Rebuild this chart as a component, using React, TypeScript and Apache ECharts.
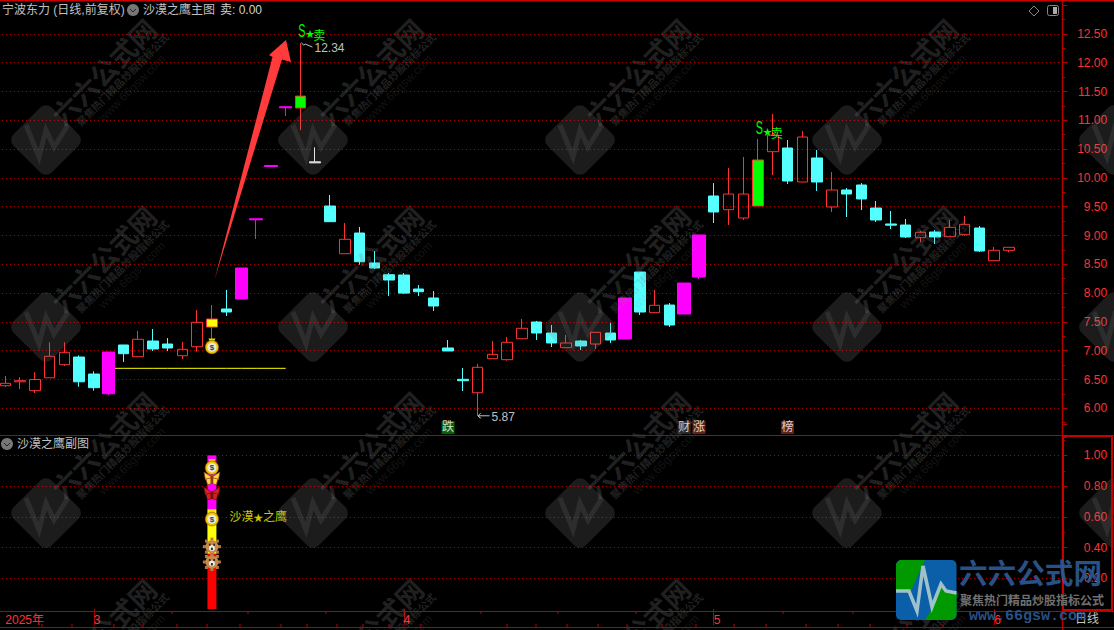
import React, { useEffect, useRef } from "react";
import * as echarts from "echarts";

const bodyTop = [6.434,6.48,6.5,6.903,6.972,6.89,6.595,6.977,7.099,7.198,7.168,7.116,7.024,7.493,7.55,7.724,8.436,9.29,10.216,11.235,11.42,10.279,9.512,8.934,9.043,8.523,8.319,8.314,8.071,7.915,7.047,6.503,6.712,6.937,7.146,7.389,7.498,7.307,7.134,7.168,7.319,7.307,7.915,8.366,7.788,7.793,8.175,9.009,9.686,9.72,9.72,10.311,10.744,10.519,10.71,10.346,9.79,9.79,9.877,9.477,9.2,9.182,9.056,9.061,9.142,9.194,9.13,8.743,8.795];
const bodyBottom = [6.392,6.46,6.306,6.53,6.757,6.46,6.358,6.253,6.948,6.896,7.03,7.047,6.913,7.069,7.41,7.672,7.898,9.272,10.198,11.217,11.214,10.261,9.24,8.684,8.545,8.436,8.227,8.0,8.024,7.776,6.995,6.479,6.27,6.861,6.844,7.208,7.307,7.134,7.052,7.082,7.116,7.186,7.203,7.672,7.66,7.446,7.637,8.28,9.408,9.448,9.304,9.512,10.455,9.946,9.929,9.929,9.495,9.72,9.634,9.269,9.18,8.974,8.962,8.974,8.979,9.014,8.731,8.562,8.743];
const lows = [6.37,6.335,6.265,6.53,6.734,6.375,6.306,6.23,6.804,6.896,6.995,6.995,6.856,6.983,7.13,7.602,7.898,8.94,10.198,11.075,10.83,10.261,9.24,8.684,8.493,8.418,7.95,7.984,7.95,7.689,6.995,6.3,5.87,6.861,6.826,7.208,7.186,7.064,7.052,7.012,7.03,7.134,7.203,7.62,7.66,7.411,7.637,8.245,9.217,9.182,9.269,9.512,10.05,9.894,9.929,9.773,9.408,9.321,9.443,9.234,9.113,8.957,8.887,8.852,8.979,8.997,8.713,8.562,8.708];
const highs = [6.561,6.54,6.625,7.146,7.146,6.92,6.642,6.977,7.099,7.342,7.377,7.22,7.151,7.707,7.793,8.054,8.436,9.29,10.216,11.235,12.34,10.53,9.703,9.217,9.148,8.731,8.349,8.349,8.14,8.036,7.186,6.7,6.77,7.168,7.238,7.55,7.516,7.446,7.273,7.186,7.319,7.481,7.915,8.366,8.054,7.828,8.175,9.009,9.911,10.172,10.363,10.675,11.11,10.658,10.814,10.484,10.102,9.825,9.911,9.599,9.425,9.287,9.078,9.095,9.269,9.339,9.165,8.8,8.795];
const kinds = "rrrrrccmcrccrrycmmmmgwcrccccccccrrrrccrcrcmcrcmmcrrgrcrcrcccccrcrrcrr".split("");
const dateLabels: Record<number, string> = { 0: "2025年", 6: "3", 27: "4", 48: "5", 67: "6" };
const monthStarts = [6, 27, 48, 67];
const yellowLevel = 6.694;
const yellowFrom = 7;
const yellowTo = 19;
const signalIndex = 14;
const subRed = 0.36;
const subYellow = 0.29;
const subMagenta = 0.35;
const subIcons: [string, number][] = [["bag", 0.926], ["flyY", 0.853], ["flyR", 0.755], ["bag", 0.592], ["tiger", 0.406], ["tiger", 0.306]];
const mainBag = 7.08;
const extremaIdx = [20, 32];
const extremaVal = [12.34, 5.87];
const sellMarks: [number, number][] = [[20, 12.56], [51, 10.866]];
const badges: [number, string, string][] = [[30, "跌", "#0a7a0a"], [46, "财", "#333333"], [47, "涨", "#7a2a1a"], [53, "榜", "#7a2a1a"]];
const badgeLevel = 5.667;
const topTicks = [172, 248, 326, 481, 558, 636, 783, 853];
const bottomTicks = [42, 72, 114, 143, 177, 207, 240, 281, 307, 337, 363, 389, 421, 507, 536, 567, 598, 627, 662, 696, 734, 766, 806, 838, 870, 907, 943];

const RED = "#ff3232";
const LINE = "#b80000";
const CYAN = "#54ffff";
const MAG = "#ff00ff";
const CJK = '"Liberation Sans","Noto Sans CJK SC",sans-serif';
const TICK_COUNT = 72;
const categories = Array.from({ length: TICK_COUNT }, (_, i) => dateLabels[i] ?? "");

function candle(kind: string, fill: string, border: string, width: number) {
  return {
    type: "candlestick" as const,
    xAxisIndex: 0,
    yAxisIndex: 0,
    barWidth: width,
    z: 3,
    itemStyle: { color: fill, color0: fill, borderColor: border, borderColor0: border, borderColorDoji: border, borderWidth: 1 },
    data: kinds.map((k, i) => (k === kind ? [bodyBottom[i], bodyTop[i], lows[i], highs[i]] : [NaN, NaN, NaN, NaN])),
  };
}

function iconChildren(kind: string) {
  if (kind === "bag") {
    return [
      { type: "polygon", shape: { points: [[-3.5, -7.5], [3.5, -7.5], [1.5, -3], [-1.5, -3]] }, style: { fill: "#ffd400" } },
      { type: "circle", shape: { cx: 0, cy: 1, r: 6.8 }, style: { fill: "#f2c200", stroke: "#5a3a00", lineWidth: 0.5 } },
      { type: "circle", shape: { cx: 0, cy: 1, r: 4.6 }, style: { fill: "#efe9d8" } },
      { type: "text", x: 0, y: 1, style: { text: "$", fill: "#4a3a2a", font: "bold 8px 'Liberation Sans'", align: "center", verticalAlign: "middle" } },
    ];
  }
  if (kind === "tiger") {
    const spikes: number[][] = [];
    for (const [x, y] of [[0, -7.5], [7.5, 0], [0, 7.5], [-7.5, 0], [-5.5, -5.5], [5.5, -5.5], [-5.5, 5.5], [5.5, 5.5]]) spikes.push([x, y]);
    return [
      ...spikes.map(([x, y]) => ({ type: "rect", shape: { x: x - 1.5, y: y - 1.5, width: 3, height: 3 }, style: { fill: "#b87a3a" } })),
      { type: "circle", shape: { cx: 0, cy: 0, r: 6.5 }, style: { fill: "#c48a4c" } },
      { type: "circle", shape: { cx: 0, cy: 1.5, r: 3 }, style: { fill: "#eeeeee" } },
      { type: "rect", shape: { x: -3, y: -3, width: 1.6, height: 2 }, style: { fill: "#222" } },
      { type: "rect", shape: { x: 1.4, y: -3, width: 1.6, height: 2 }, style: { fill: "#222" } },
      { type: "rect", shape: { x: -1, y: 1, width: 2, height: 2.5 }, style: { fill: "#333" } },
    ];
  }
  const wing = kind === "flyY" ? "#ffd83a" : "#d82020";
  const edge = kind === "flyY" ? "#8a3a10" : "#701010";
  return [
    { type: "polygon", shape: { points: [[-8, -6], [-1, -1.5], [-1, 2], [-6.5, 2]] }, style: { fill: wing, stroke: edge, lineWidth: 0.7 } },
    { type: "polygon", shape: { points: [[8, -6], [1, -1.5], [1, 2], [6.5, 2]] }, style: { fill: wing, stroke: edge, lineWidth: 0.7 } },
    { type: "polygon", shape: { points: [[-6, 1], [-1, 0], [-1, 6], [-4.5, 6.5]] }, style: { fill: wing, stroke: edge, lineWidth: 0.7 } },
    { type: "polygon", shape: { points: [[6, 1], [1, 0], [1, 6], [4.5, 6.5]] }, style: { fill: wing, stroke: edge, lineWidth: 0.7 } },
    { type: "rect", shape: { x: -1, y: -2, width: 2, height: 8 }, style: { fill: edge } },
  ];
}

function renderIcon(kindsOfIcons: string[]) {
  return (params: any, api: any) => {
    const p = api.coord([api.value(0), api.value(1)]);
    return { type: "group", x: p[0], y: p[1], children: iconChildren(kindsOfIcons[params.dataIndex]) };
  };
}

function hline(x1: number, y1: number, x2: number, y2: number, width = 1, stroke = LINE, z = 60) {
  return { type: "line", z, silent: true, shape: { x1, y1, x2, y2 }, style: { stroke, lineWidth: width } };
}

function label(text: string, x: number, y: number, fill = "#c0c0c0", font = `12px ${CJK}`, z = 60) {
  return { type: "text", z, silent: true, x, y, style: { text, fill, font, verticalAlign: "middle", align: "left" } };
}

function chevron(cx: number, cy: number) {
  return [
    { type: "circle", z: 60, silent: true, shape: { cx, cy, r: 6 }, style: { fill: "#777777" } },
    { type: "polyline", z: 61, silent: true, shape: { points: [[cx - 3, cy - 1], [cx, cy + 2], [cx + 3, cy - 1]] }, style: { stroke: "#222222", fill: "none", lineWidth: 1 } },
  ];
}

function watermark(cx: number, cy: number) {
  const tint = "rgba(128,128,128,0.26)";
  const faint = "rgba(128,128,128,0.22)";
  return {
    type: "group",
    x: cx,
    y: cy,
    silent: true,
    children: [
      { type: "rect", z: 40, shape: { x: -27, y: -27, width: 54, height: 54, r: 8 }, rotation: Math.PI / 4, style: { fill: faint } },
      { type: "polyline", z: 41, shape: { points: [[-20, -15], [-7, 17], [0, -10], [8, 7], [22, -15]] }, style: { stroke: "rgba(150,150,150,0.14)", lineWidth: 5, fill: "none" } },
      { type: "text", z: 40, x: 59, y: -67, rotation: Math.PI / 4, style: { text: "六六公式网", fill: tint, font: `bold 27px ${CJK}`, align: "center", verticalAlign: "middle" } },
      { type: "text", z: 40, x: 77, y: -60, rotation: Math.PI / 4, style: { text: "聚焦热门精品炒股指标公式", fill: tint, font: `bold 10.5px ${CJK}`, align: "center", verticalAlign: "middle" } },
      { type: "text", z: 40, x: 86, y: -52, rotation: Math.PI / 4, style: { text: "www.66gsw.com", fill: "rgba(128,128,128,0.16)", font: "12px 'Liberation Sans'", align: "center", verticalAlign: "middle" } },
    ],
  };
}

const tiles: any[] = [];
for (const cx of [46, 313, 580, 847, 1114]) for (const cy of [140, 327, 513, 700]) tiles.push(watermark(cx, cy));

function buildOption(): any {
  const graphics: any[] = [
    ...tiles,
    hline(0, 0.5, 1114, 0.5, 2, "#c80000"),
    hline(0, 435.5, 1114, 435.5),
    hline(0, 611.5, 1114, 611.5),
    hline(0, 627.5, 1114, 627.5),
    hline(1062.5, 0, 1062.5, 630, 1.5),
    ...topTicks.map((x) => hline(x, 611, x, 614)),
    ...bottomTicks.map((x) => hline(x, 624, x, 627)),
    { type: "rect", z: 60, silent: true, shape: { x: 1063, y: 436, width: 49, height: 174 }, style: { fill: "none", stroke: "#c80000", lineWidth: 2 } },
    { type: "polygon", z: 50, silent: true, shape: { points: [[286, 40], [291, 62], [282, 59.5], [214.5, 280], [272.5, 57], [269, 55]] }, style: { fill: "#ff3b3b" } },
    label("宁波东力 (日线,前复权)", 2, 10),
    ...chevron(133, 10),
    label("沙漠之鹰主图", 143, 10),
    label("卖: 0.00", 220, 10, "#d0d0d0"),
    ...chevron(7, 444),
    label("沙漠之鹰副图", 17, 444),
    { type: "polygon", z: 60, silent: true, shape: { points: [[1034, 6], [1039, 11], [1034, 16], [1029, 11]] }, style: { fill: "none", stroke: "#888888", lineWidth: 1 } },
    { type: "rect", z: 60, silent: true, shape: { x: 1047.5, y: 5.5, width: 11, height: 10, r: 2 }, style: { fill: "#000", stroke: "#888888", lineWidth: 1 } },
    { type: "rect", z: 61, silent: true, shape: { x: 1053, y: 7, width: 4, height: 7 }, style: { fill: "#aaaaaa" } },
    label("日线", 1075, 619, "#c8c8c8"),
    // corner logo
    { type: "rect", z: 70, silent: true, shape: { x: 896, y: 560, width: 60.5, height: 60, r: 5 }, style: { fill: "#0a5fa8" } },
    { type: "polygon", z: 71, silent: true, shape: { points: [[900, 560], [925, 560], [922, 566], [911, 591], [896, 591], [896, 564]] }, style: { fill: "#009a00" } },
    { type: "polygon", z: 71, silent: true, shape: { points: [[956.5, 593], [956.5, 616], [952, 620], [925, 620], [933, 607], [941, 586], [946, 592]] }, style: { fill: "#009a00" } },
    { type: "polyline", z: 72, silent: true, shape: { points: [[896, 591], [909, 591], [917, 611], [923, 566], [932, 607], [941, 584], [946, 591], [956.5, 593]] }, style: { stroke: "rgba(175,205,205,0.9)", fill: "none", lineWidth: 3.5 } },
    { type: "text", z: 70, silent: true, x: 959, y: 574, style: { text: "六六公式网", fill: "rgba(44,90,150,0.92)", font: `bold 28.6px ${CJK}`, verticalAlign: "middle", align: "left" } },
    { type: "text", z: 70, silent: true, x: 960, y: 601, style: { text: "聚焦热门精品炒股指标公式", fill: "#707070", font: `bold 12px ${CJK}`, verticalAlign: "middle", align: "left" } },
    { type: "text", z: 70, silent: true, x: 969, y: 616, style: { text: "www.66gsw.com", fill: "rgba(44,90,150,0.92)", font: "bold 15px 'Liberation Mono'", verticalAlign: "middle", align: "left" } },
  ];

  const hiddenDot = { color: "rgba(0,0,0,0)", borderWidth: 0 };

  const sellSeries = {
    type: "custom",
    xAxisIndex: 0,
    yAxisIndex: 0,
    z: 10,
    silent: true,
    data: sellMarks.map(([i, v]) => [i, v]),
    renderItem: (_params: any, api: any) => {
      const p = api.coord([api.value(0), api.value(1)]);
      const green = "#00ff00";
      return {
        type: "group",
        x: p[0],
        y: p[1],
        children: [
          { type: "text", x: -2.3, y: 0, scaleX: 0.6, style: { text: "S", fill: green, font: "18px 'Liberation Sans'", align: "left", verticalAlign: "middle" } },
          { type: "text", x: 5, y: 3.5, style: { text: "★", fill: green, font: `9px "Noto Sans CJK SC"`, align: "left", verticalAlign: "middle" } },
          { type: "text", x: 12.7, y: 4, style: { text: "卖", fill: green, font: `12px "Noto Sans CJK SC"`, align: "left", verticalAlign: "middle" } },
        ],
      };
    },
  };

  const badgeSeries = {
    type: "scatter",
    xAxisIndex: 0,
    yAxisIndex: 0,
    symbolSize: 1,
    z: 10,
    itemStyle: hiddenDot,
    data: badges.map(([i, t, bg]) => ({
      value: [i, badgeLevel],
      label: { formatter: t, backgroundColor: bg },
    })),
    label: { show: true, position: "inside", color: "#ffffff", fontSize: 12, fontFamily: CJK, width: 13, height: 13, lineHeight: 13, align: "center", verticalAlign: "middle" },
  };

  const extremaSeries = {
    type: "custom",
    xAxisIndex: 0,
    yAxisIndex: 0,
    z: 10,
    silent: true,
    data: extremaIdx.map((i, k) => [i, extremaVal[k]]),
    renderItem: (params: any, api: any) => {
      const p = api.coord([api.value(0), api.value(1)]);
      const k = params.dataIndex;
      const stroke = "#c0c0c0";
      const arrow =
        k === 0
          ? [[1, -0.5], [3, 2], [5, 1], [12, 4]]
          : [[3, -2.5], [0.5, 0], [3, 2.5], [0.5, 0], [12, 0]];
      return {
        type: "group",
        x: p[0],
        y: p[1],
        children: [
          { type: "polyline", shape: { points: arrow }, style: { stroke, fill: "none", lineWidth: 1 } },
          { type: "text", x: 14, y: k === 0 ? 5 : 1, style: { text: String(extremaVal[k].toFixed(2)), fill: stroke, font: "12px 'Liberation Sans'", align: "left", verticalAlign: "middle" } },
        ],
      };
    },
  };

  const yellowLine = {
    type: "line",
    xAxisIndex: 0,
    yAxisIndex: 0,
    symbol: "none",
    z: 2,
    lineStyle: { color: "#ffff00", width: 1 },
    data: categories.map((_, i) => (i >= yellowFrom && i <= yellowTo ? yellowLevel : null)),
  };

  const subBar = (value: number, color: string) => ({
    type: "bar",
    xAxisIndex: 1,
    yAxisIndex: 1,
    stack: "signal",
    barWidth: 9,
    z: 3,
    itemStyle: { color },
    data: categories.map((_, i) => (i === signalIndex ? value : null)),
  });

  const monthTick = (i: number) => monthStarts.includes(i);

  return {
    animation: false,
    backgroundColor: "#000000",
    textStyle: { fontFamily: CJK },
    tooltip: { show: false },
    grid: [
      { left: -2.1, top: 5.1, width: 1062.7, height: 432, outerBoundsMode: "none" },
      { left: -2.1, top: 424.7, width: 1062.7, height: 184.3, outerBoundsMode: "none" },
    ],
    xAxis: [
      { type: "category", gridIndex: 0, data: categories, show: false, boundaryGap: true },
      {
        type: "category",
        gridIndex: 1,
        data: categories,
        boundaryGap: true,
        position: "bottom",
        offset: 2.5,
        axisLine: { show: false },
        axisTick: { show: true, alignWithLabel: true, interval: monthTick, length: 16, lineStyle: { color: LINE } },
        axisLabel: { show: true, interval: 0, color: RED, fontSize: 12, align: "left", margin: 2, padding: [0, 0, 0, 0], hideOverlap: false, fontFamily: CJK },
        splitLine: { show: false },
      },
    ],
    yAxis: [
      {
        type: "value",
        gridIndex: 0,
        position: "right",
        min: 5.5,
        max: 13,
        interval: 0.5,
        offset: 1.6,
        axisLine: { show: false },
        axisTick: { show: true, length: 5, lineStyle: { color: LINE } },
        minorTick: { show: true, splitNumber: 2, length: 3, lineStyle: { color: LINE } },
        axisLabel: { show: true, color: RED, fontSize: 12, align: "right", margin: 45, showMinLabel: false, showMaxLabel: false, formatter: (v: number) => v.toFixed(2), fontFamily: "Liberation Sans" },
        splitLine: { show: true, showMinLine: false, showMaxLine: false, lineStyle: { color: "#c00000", type: [1, 3], width: 1 } },
      },
      {
        type: "value",
        gridIndex: 1,
        position: "right",
        min: 0,
        max: 1.2,
        interval: 0.2,
        offset: 1.6,
        axisLine: { show: false },
        axisTick: { show: true, length: 5, lineStyle: { color: LINE } },
        minorTick: { show: true, splitNumber: 2, length: 3, lineStyle: { color: LINE } },
        axisLabel: { show: true, color: RED, fontSize: 12, align: "right", margin: 45, showMinLabel: false, showMaxLabel: false, formatter: (v: number) => v.toFixed(2), fontFamily: "Liberation Sans" },
        splitLine: { show: true, showMinLine: false, showMaxLine: false, lineStyle: { color: "#c00000", type: [1, 3], width: 1 } },
      },
    ],
    graphic: { elements: graphics },
    series: [
      yellowLine,
      candle("r", "rgba(0,0,0,0)", RED, 11),
      candle("c", CYAN, CYAN, 11),
      candle("m", MAG, MAG, 13),
      candle("g", "#00ff00", RED, 11),
      candle("y", "#ffff00", RED, 11),
      candle("w", "#ffffff", "#ffffff", 11),
      sellSeries,
      badgeSeries,
      extremaSeries,
      {
        type: "custom",
        xAxisIndex: 0,
        yAxisIndex: 0,
        z: 8,
        silent: true,
        data: [[signalIndex, mainBag]],
        renderItem: renderIcon(["bag"]),
      },
      subBar(subRed, "#ff0000"),
      subBar(subYellow, "#ffff00"),
      subBar(subMagenta, "#ff00ff"),
      {
        type: "custom",
        xAxisIndex: 1,
        yAxisIndex: 1,
        z: 8,
        silent: true,
        data: subIcons.map(([, v]) => [signalIndex, v]),
        renderItem: renderIcon(subIcons.map(([k]) => k)),
      },
      {
        type: "scatter",
        xAxisIndex: 1,
        yAxisIndex: 1,
        symbolSize: 1,
        z: 10,
        itemStyle: hiddenDot,
        data: [[signalIndex, 0.6]],
        label: {
          show: true,
          position: "inside",
          align: "left",
          verticalAlign: "middle",
          offset: [17.5, 0],
          formatter: "{a|沙漠}{b|★}{a|之鹰}",
          rich: {
            a: { fontSize: 12, color: "#ffff00", fontFamily: CJK },
            b: { fontSize: 9.5, color: "#ffff00", fontFamily: '"Noto Sans CJK SC"' },
          },
        },
      },
    ],
  };
}

export default function App() {
  const ref = useRef<HTMLDivElement>(null);
  useEffect(() => {
    document.body.style.margin = "0";
    document.body.style.background = "#000";
    document.body.style.overflow = "hidden";
    const chart = echarts.init(ref.current!, undefined, { renderer: "svg" });
    chart.setOption(buildOption());
    return () => chart.dispose();
  }, []);
  return <div ref={ref} style={{ position: "absolute", left: 0, top: 0, width: 1114, height: 630 }} />;
}
